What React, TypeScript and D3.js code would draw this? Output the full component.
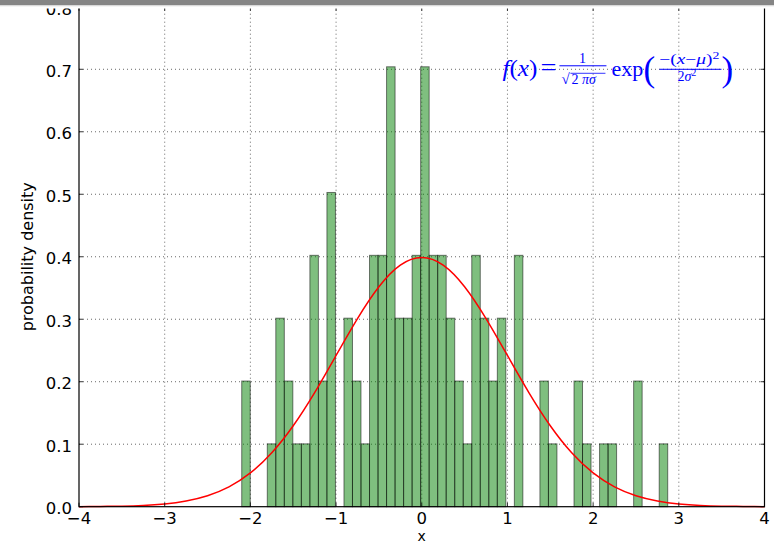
import { useEffect } from "react";
import * as d3 from "d3";

// histogram of 100 samples, 50 bins (counts)
const sampleCount = 100;
const binStart = -2.101;
const binWidth = 0.09943;
const binCounts = [
  2, 0, 0, 1, 3, 2, 1, 1, 4, 2,
  5, 0, 3, 2, 1, 4, 4, 7, 3, 3,
  4, 7, 4, 4, 3, 2, 1, 4, 3, 2,
  3, 0, 4, 0, 0, 2, 1, 0, 0, 2,
  1, 0, 1, 1, 0, 0, 2, 0, 0, 1,
];

// red fitted curve, sampled every 0.25 from -4 to 4
const curveX = d3.range(-4, 4.0001, 0.25);
const curveY = [
  0.0001, 0.0004, 0.0009, 0.002, 0.0044, 0.0091, 0.0175, 0.0317, 0.054,
  0.0863, 0.1295, 0.1826, 0.242, 0.3011, 0.3521, 0.3867, 0.3989, 0.3867,
  0.3521, 0.3011, 0.242, 0.1826, 0.1295, 0.0863, 0.054, 0.0317, 0.0175,
  0.0091, 0.0044, 0.002, 0.0009, 0.0004, 0.0001,
];

const xTicks = [-4, -3, -2, -1, 0, 1, 2, 3, 4];
const yTicks = [0, 0.1, 0.2, 0.3, 0.4, 0.5, 0.6, 0.7, 0.8];

const W = 774;
const H = 543;
const margin = { top: 6.8, right: 9.5, bottom: 36.3, left: 79 };

export default function App() {
  useEffect(() => {
    document.body.style.margin = "0";
  }, []);

  const x = d3
    .scaleLinear()
    .domain([-4, 4])
    .range([margin.left, W - margin.right]);
  const y = d3
    .scaleLinear()
    .domain([0, 0.8])
    .range([H - margin.bottom, margin.top]);

  const bins = binCounts.map((c, i) => ({
    x0: binStart + i * binWidth,
    x1: binStart + (i + 1) * binWidth,
    d: c / (sampleCount * binWidth),
  }));

  const line = d3
    .line<number>()
    .x((_d, i) => x(curveX[i]))
    .y((d) => y(d))
    .curve(d3.curveNatural);

  const fmtY = d3.format(".1f");
  const fmtX = d3.format("d");
  const x0 = x.range()[0];
  const x1 = x.range()[1];
  const y0 = y.range()[0];
  const y1 = y.range()[1];

  // formula anchor at data (1, 0.7)
  const ax = x(1) - 5;
  const ay = y(0.7);
  const serif = "'Liberation Serif', 'DejaVu Serif', serif";

  return (
    <svg width={W} height={H} style={{ display: "block" }}>
      <rect width={W} height={H} fill="#fff" />

      {/* grid */}
      <g stroke="#000" strokeWidth={0.6} strokeDasharray="1,3">
        {xTicks.slice(1, -1).map((t) => (
          <line key={"gx" + t} x1={x(t)} x2={x(t)} y1={y0} y2={y1} />
        ))}
        {yTicks.slice(1, -1).map((t) => (
          <line key={"gy" + t} x1={x0} x2={x1} y1={y(t)} y2={y(t)} />
        ))}
      </g>

      {/* bars */}
      <g fill="green" fillOpacity={0.5} stroke="#000" strokeOpacity={0.5} strokeWidth={1}>
        {bins
          .filter((b) => b.d > 0)
          .map((b, i) => (
            <rect
              key={i}
              x={x(b.x0)}
              y={y(b.d)}
              width={x(b.x1) - x(b.x0)}
              height={y(0) - y(b.d)}
            />
          ))}
      </g>

      <path d={line(curveY) ?? ""} fill="none" stroke="red" strokeWidth={1.5} />

      {/* ticks */}
      <g stroke="#000" strokeWidth={0.8}>
        {xTicks.map((t) => (
          <g key={"tx" + t}>
            <line x1={x(t)} x2={x(t)} y1={y0} y2={y0 - 4} />
            <line x1={x(t)} x2={x(t)} y1={y1} y2={y1 + 4} />
          </g>
        ))}
        {yTicks.map((t) => (
          <g key={"ty" + t}>
            <line x1={x0} x2={x0 + 4} y1={y(t)} y2={y(t)} />
            <line x1={x1} x2={x1 - 4} y1={y(t)} y2={y(t)} />
          </g>
        ))}
      </g>

      {/* frame */}
      <rect x={x0} y={y1} width={x1 - x0} height={y0 - y1} fill="none" stroke="#000" strokeWidth={1.2} />

      {/* tick labels */}
      <g fontFamily="'DejaVu Sans', sans-serif" fontSize={16.5} fill="#000">
        {xTicks.map((t) => (
          <text key={"lx" + t} x={x(t)} y={y0 + 17.5} textAnchor="middle">
            {fmtX(t)}
          </text>
        ))}
        {yTicks.map((t) => (
          <text key={"ly" + t} x={x0 - 7} y={y(t) + 7.7} textAnchor="end">
            {fmtY(t)}
          </text>
        ))}
        <text x={(x0 + x1) / 2} y={H - 2.5} textAnchor="middle" fontSize={14}>
          x
        </text>
        <text transform={`translate(33,${(y0 + y1) / 2}) rotate(-90)`} textAnchor="middle" fontSize={16}>
          probability density
        </text>
      </g>

      {/* formula */}
      <g fill="blue" fontFamily={serif}>
        <text x={ax} y={ay + 7} fontSize={23} textLength={35} lengthAdjust="spacingAndGlyphs">
          <tspan fontStyle="italic">f</tspan>(<tspan fontStyle="italic">x</tspan>)
        </text>
        <text x={ax + 38} y={ay + 6} fontSize={23} textLength={16} lengthAdjust="spacingAndGlyphs">=</text>
        <line x1={ax + 57} x2={ax + 104} y1={ay - 3.5} y2={ay - 3.5} stroke="blue" strokeWidth={1} />
        <text x={ax + 80} y={ay - 6.5} fontSize={14} textAnchor="middle">1</text>
        <text x={ax + 59} y={ay + 15} fontSize={15}>√</text>
        <line x1={ax + 68} x2={ax + 103} y1={ay + 4} y2={ay + 4} stroke="blue" strokeWidth={0.8} />
        <text x={ax + 69} y={ay + 15} fontSize={14}>
          2 <tspan fontStyle="italic">πσ</tspan>
        </text>
        <text x={ax + 109} y={ay + 7} fontSize={22}>exp</text>
        <text x={ax + 141} y={ay + 12} fontSize={35}>(</text>
        <text x={ax + 157} y={ay - 5} fontSize={14} textLength={60} lengthAdjust="spacingAndGlyphs">
          −(<tspan fontStyle="italic">x</tspan>−<tspan fontStyle="italic">μ</tspan>)
          <tspan fontSize={10} dy={-5}>2</tspan>
        </text>
        <line x1={ax + 157} x2={ax + 219} y1={ay} y2={ay} stroke="blue" strokeWidth={1} />
        <text x={ax + 175} y={ay + 12} fontSize={14}>
          2<tspan fontStyle="italic">σ</tspan>
          <tspan fontSize={10} dy={-5}>2</tspan>
        </text>
        <text x={ax + 219} y={ay + 12} fontSize={35}>)</text>
      </g>

      {/* screenshot edge at the top */}
      <rect x={0} y={5.5} width={W} height={3} fill="#fff" />
      <rect x={0} y={5} width={W} height={1.3} fill="#d9d9d9" />
      <rect x={0} y={0} width={W} height={5} fill="#858585" />
    </svg>
  );
}
